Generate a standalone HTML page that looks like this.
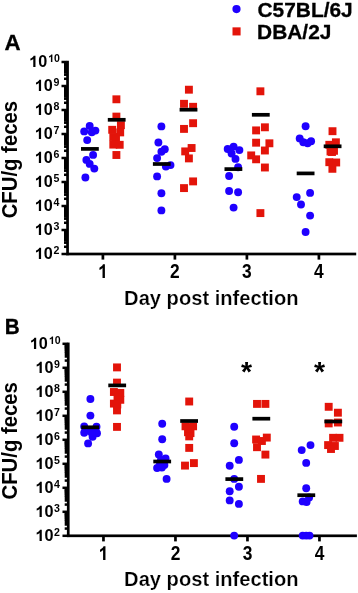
<!DOCTYPE html>
<html><head><meta charset="utf-8"><title>CFU/g feces</title>
<style>
html,body{margin:0;padding:0;background:#fff;}
body{width:358px;height:593px;overflow:hidden;}
svg{display:block;font-family:"Liberation Sans",sans-serif;will-change:transform;}
.yt{font-weight:bold;font-size:15.6px;}
.sup{font-weight:bold;font-size:10.6px;}
.xt{font-weight:bold;font-size:19.3px;}
.ttl{font-weight:bold;font-size:19.6px;stroke:#fff;stroke-width:0.2px;}
.ytl{font-weight:bold;font-size:21.5px;}
.pl{font-weight:bold;font-size:22.3px;stroke:#000;stroke-width:0.3px;}
.lg{font-weight:bold;font-size:20.9px;stroke:#000;stroke-width:0.3px;}
.st{font-weight:bold;font-size:28.4px;}
</style></head><body>
<svg width="358" height="593" viewBox="0 0 358 593" fill="#000">
<rect x="0" y="0" width="358" height="593" fill="#fff"/>
<rect x="66.20" y="60.75" width="2.7" height="194.50"/>
<rect x="66.20" y="252.65" width="290.00" height="2.7"/>
<rect x="61.50" y="252.75" width="5" height="2.5"/>
<rect x="64.00" y="245.53" width="3" height="2.5"/>
<rect x="64.00" y="241.15" width="3" height="2.8"/>
<rect x="64.00" y="237.90" width="3" height="3.3"/>
<rect x="64.00" y="235.57" width="3" height="3.3"/>
<rect x="64.00" y="233.67" width="3" height="3.3"/>
<rect x="64.00" y="232.07" width="3" height="3.3"/>
<rect x="64.00" y="230.68" width="3" height="3.3"/>
<rect x="64.00" y="229.45" width="3" height="3.3"/>
<rect x="61.50" y="228.75" width="5" height="2.5"/>
<rect x="64.00" y="221.53" width="3" height="2.5"/>
<rect x="64.00" y="217.15" width="3" height="2.8"/>
<rect x="64.00" y="213.90" width="3" height="3.3"/>
<rect x="64.00" y="211.57" width="3" height="3.3"/>
<rect x="64.00" y="209.67" width="3" height="3.3"/>
<rect x="64.00" y="208.07" width="3" height="3.3"/>
<rect x="64.00" y="206.68" width="3" height="3.3"/>
<rect x="64.00" y="205.45" width="3" height="3.3"/>
<rect x="61.50" y="204.75" width="5" height="2.5"/>
<rect x="64.00" y="197.53" width="3" height="2.5"/>
<rect x="64.00" y="193.15" width="3" height="2.8"/>
<rect x="64.00" y="189.90" width="3" height="3.3"/>
<rect x="64.00" y="187.57" width="3" height="3.3"/>
<rect x="64.00" y="185.67" width="3" height="3.3"/>
<rect x="64.00" y="184.07" width="3" height="3.3"/>
<rect x="64.00" y="182.68" width="3" height="3.3"/>
<rect x="64.00" y="181.45" width="3" height="3.3"/>
<rect x="61.50" y="180.75" width="5" height="2.5"/>
<rect x="64.00" y="173.53" width="3" height="2.5"/>
<rect x="64.00" y="169.15" width="3" height="2.8"/>
<rect x="64.00" y="165.90" width="3" height="3.3"/>
<rect x="64.00" y="163.57" width="3" height="3.3"/>
<rect x="64.00" y="161.67" width="3" height="3.3"/>
<rect x="64.00" y="160.07" width="3" height="3.3"/>
<rect x="64.00" y="158.68" width="3" height="3.3"/>
<rect x="64.00" y="157.45" width="3" height="3.3"/>
<rect x="61.50" y="156.75" width="5" height="2.5"/>
<rect x="64.00" y="149.53" width="3" height="2.5"/>
<rect x="64.00" y="145.15" width="3" height="2.8"/>
<rect x="64.00" y="141.90" width="3" height="3.3"/>
<rect x="64.00" y="139.57" width="3" height="3.3"/>
<rect x="64.00" y="137.67" width="3" height="3.3"/>
<rect x="64.00" y="136.07" width="3" height="3.3"/>
<rect x="64.00" y="134.68" width="3" height="3.3"/>
<rect x="64.00" y="133.45" width="3" height="3.3"/>
<rect x="61.50" y="132.75" width="5" height="2.5"/>
<rect x="64.00" y="125.53" width="3" height="2.5"/>
<rect x="64.00" y="121.15" width="3" height="2.8"/>
<rect x="64.00" y="117.90" width="3" height="3.3"/>
<rect x="64.00" y="115.57" width="3" height="3.3"/>
<rect x="64.00" y="113.67" width="3" height="3.3"/>
<rect x="64.00" y="112.07" width="3" height="3.3"/>
<rect x="64.00" y="110.68" width="3" height="3.3"/>
<rect x="64.00" y="109.45" width="3" height="3.3"/>
<rect x="61.50" y="108.75" width="5" height="2.5"/>
<rect x="64.00" y="101.53" width="3" height="2.5"/>
<rect x="64.00" y="97.15" width="3" height="2.8"/>
<rect x="64.00" y="93.90" width="3" height="3.3"/>
<rect x="64.00" y="91.57" width="3" height="3.3"/>
<rect x="64.00" y="89.67" width="3" height="3.3"/>
<rect x="64.00" y="88.07" width="3" height="3.3"/>
<rect x="64.00" y="86.68" width="3" height="3.3"/>
<rect x="64.00" y="85.45" width="3" height="3.3"/>
<rect x="61.50" y="84.75" width="5" height="2.5"/>
<rect x="64.00" y="77.53" width="3" height="2.5"/>
<rect x="64.00" y="73.15" width="3" height="2.8"/>
<rect x="64.00" y="69.90" width="3" height="3.3"/>
<rect x="64.00" y="67.57" width="3" height="3.3"/>
<rect x="64.00" y="65.67" width="3" height="3.3"/>
<rect x="64.00" y="64.07" width="3" height="3.3"/>
<rect x="64.00" y="62.68" width="3" height="3.3"/>
<rect x="64.00" y="61.45" width="3" height="3.3"/>
<rect x="61.50" y="60.75" width="5" height="2.5"/>
<rect x="101.55" y="254.00" width="2.7" height="5.6"/>
<path transform="translate(98.07,278.00) scale(0.00848,-0.00942)" d="M806 0H525V1059Q371 915 162 846V1101Q272 1137 401 1237.5Q530 1338 578 1472H806Z"/>
<text class="xt" transform="translate(102.9,278) scale(0.9,1)" text-anchor="middle" style="fill:none;stroke:none">1</text>
<rect x="173.55" y="254.00" width="2.7" height="5.6"/>
<text class="xt" transform="translate(174.9,278) scale(0.9,1)" text-anchor="middle">2</text>
<rect x="245.55" y="254.00" width="2.7" height="5.6"/>
<text class="xt" transform="translate(246.9,278) scale(0.9,1)" text-anchor="middle">3</text>
<rect x="317.55" y="254.00" width="2.7" height="5.6"/>
<text class="xt" transform="translate(318.9,278) scale(0.9,1)" text-anchor="middle">4</text>
<path transform="translate(34.70,259.00) scale(0.00792,-0.00762)" d="M806 0H525V1059Q371 915 162 846V1101Q272 1137 401 1237.5Q530 1338 578 1472H806Z"/><text class="yt" transform="translate(34.70,259) scale(1.04,1)"><tspan style="fill:none">1</tspan>0</text><text class="sup" x="53.40" y="254">2</text>
<path transform="translate(34.70,235.00) scale(0.00792,-0.00762)" d="M806 0H525V1059Q371 915 162 846V1101Q272 1137 401 1237.5Q530 1338 578 1472H806Z"/><text class="yt" transform="translate(34.70,235) scale(1.04,1)"><tspan style="fill:none">1</tspan>0</text><text class="sup" x="53.40" y="230">3</text>
<path transform="translate(34.70,211.00) scale(0.00792,-0.00762)" d="M806 0H525V1059Q371 915 162 846V1101Q272 1137 401 1237.5Q530 1338 578 1472H806Z"/><text class="yt" transform="translate(34.70,211) scale(1.04,1)"><tspan style="fill:none">1</tspan>0</text><text class="sup" x="53.40" y="206">4</text>
<path transform="translate(34.70,187.00) scale(0.00792,-0.00762)" d="M806 0H525V1059Q371 915 162 846V1101Q272 1137 401 1237.5Q530 1338 578 1472H806Z"/><text class="yt" transform="translate(34.70,187) scale(1.04,1)"><tspan style="fill:none">1</tspan>0</text><text class="sup" x="53.40" y="182">5</text>
<path transform="translate(34.70,163.00) scale(0.00792,-0.00762)" d="M806 0H525V1059Q371 915 162 846V1101Q272 1137 401 1237.5Q530 1338 578 1472H806Z"/><text class="yt" transform="translate(34.70,163) scale(1.04,1)"><tspan style="fill:none">1</tspan>0</text><text class="sup" x="53.40" y="158">6</text>
<path transform="translate(34.70,139.00) scale(0.00792,-0.00762)" d="M806 0H525V1059Q371 915 162 846V1101Q272 1137 401 1237.5Q530 1338 578 1472H806Z"/><text class="yt" transform="translate(34.70,139) scale(1.04,1)"><tspan style="fill:none">1</tspan>0</text><text class="sup" x="53.40" y="134">7</text>
<path transform="translate(34.70,115.00) scale(0.00792,-0.00762)" d="M806 0H525V1059Q371 915 162 846V1101Q272 1137 401 1237.5Q530 1338 578 1472H806Z"/><text class="yt" transform="translate(34.70,115) scale(1.04,1)"><tspan style="fill:none">1</tspan>0</text><text class="sup" x="53.40" y="110">8</text>
<path transform="translate(34.70,91.00) scale(0.00792,-0.00762)" d="M806 0H525V1059Q371 915 162 846V1101Q272 1137 401 1237.5Q530 1338 578 1472H806Z"/><text class="yt" transform="translate(34.70,91) scale(1.04,1)"><tspan style="fill:none">1</tspan>0</text><text class="sup" x="53.40" y="86">9</text>
<path transform="translate(29.10,67.00) scale(0.00792,-0.00762)" d="M806 0H525V1059Q371 915 162 846V1101Q272 1137 401 1237.5Q530 1338 578 1472H806Z"/><text class="yt" transform="translate(29.10,67) scale(1.04,1)"><tspan style="fill:none">1</tspan>0</text><path transform="translate(48.20,62.00) scale(0.00518,-0.00518)" d="M806 0H525V1059Q371 915 162 846V1101Q272 1137 401 1237.5Q530 1338 578 1472H806Z"/><text class="sup" x="48.20" y="62"><tspan style="fill:none">1</tspan>0</text>
<circle cx="89.7" cy="125.9" r="3.95" fill="#1f00ff"/>
<circle cx="84.2" cy="131.4" r="3.95" fill="#1f00ff"/>
<circle cx="95.4" cy="130.6" r="3.95" fill="#1f00ff"/>
<circle cx="91.8" cy="132.3" r="3.95" fill="#1f00ff"/>
<circle cx="87.2" cy="140.1" r="3.95" fill="#1f00ff"/>
<circle cx="93.1" cy="154.9" r="3.95" fill="#1f00ff"/>
<circle cx="86.4" cy="159.9" r="3.95" fill="#1f00ff"/>
<circle cx="89.7" cy="163.9" r="3.95" fill="#1f00ff"/>
<circle cx="94.3" cy="168.6" r="3.95" fill="#1f00ff"/>
<circle cx="85.4" cy="177.5" r="3.95" fill="#1f00ff"/>
<rect x="112.45" y="95.35" width="7.9" height="7.9" fill="#e3140a"/>
<rect x="112.45" y="112.65" width="7.9" height="7.9" fill="#e3140a"/>
<rect x="116.95" y="121.25" width="7.9" height="7.9" fill="#e3140a"/>
<rect x="108.25" y="125.85" width="7.9" height="7.9" fill="#e3140a"/>
<rect x="116.25" y="128.45" width="7.9" height="7.9" fill="#e3140a"/>
<rect x="109.35" y="133.05" width="7.9" height="7.9" fill="#e3140a"/>
<rect x="112.05" y="135.55" width="7.9" height="7.9" fill="#e3140a"/>
<rect x="109.35" y="140.65" width="7.9" height="7.9" fill="#e3140a"/>
<rect x="115.75" y="140.85" width="7.9" height="7.9" fill="#e3140a"/>
<rect x="112.45" y="151.05" width="7.9" height="7.9" fill="#e3140a"/>
<circle cx="161.4" cy="126.4" r="3.95" fill="#1f00ff"/>
<circle cx="158.4" cy="142.5" r="3.95" fill="#1f00ff"/>
<circle cx="164.8" cy="149.2" r="3.95" fill="#1f00ff"/>
<circle cx="161.4" cy="151.7" r="3.95" fill="#1f00ff"/>
<circle cx="157.1" cy="158.1" r="3.95" fill="#1f00ff"/>
<circle cx="170.5" cy="165.1" r="3.95" fill="#1f00ff"/>
<circle cx="165.9" cy="166.5" r="3.95" fill="#1f00ff"/>
<circle cx="157.1" cy="176.4" r="3.95" fill="#1f00ff"/>
<circle cx="161.4" cy="193.3" r="3.95" fill="#1f00ff"/>
<circle cx="161.4" cy="210.4" r="3.95" fill="#1f00ff"/>
<rect x="184.95" y="85.75" width="7.9" height="7.9" fill="#e3140a"/>
<rect x="180.05" y="99.85" width="7.9" height="7.9" fill="#e3140a"/>
<rect x="189.15" y="102.85" width="7.9" height="7.9" fill="#e3140a"/>
<rect x="189.15" y="119.25" width="7.9" height="7.9" fill="#e3140a"/>
<rect x="180.05" y="124.95" width="7.9" height="7.9" fill="#e3140a"/>
<rect x="187.65" y="144.05" width="7.9" height="7.9" fill="#e3140a"/>
<rect x="181.25" y="147.45" width="7.9" height="7.9" fill="#e3140a"/>
<rect x="184.95" y="154.45" width="7.9" height="7.9" fill="#e3140a"/>
<rect x="189.15" y="177.45" width="7.9" height="7.9" fill="#e3140a"/>
<rect x="180.05" y="184.15" width="7.9" height="7.9" fill="#e3140a"/>
<circle cx="233.6" cy="146.6" r="3.95" fill="#1f00ff"/>
<circle cx="227.7" cy="149.0" r="3.95" fill="#1f00ff"/>
<circle cx="239.4" cy="150.1" r="3.95" fill="#1f00ff"/>
<circle cx="231.6" cy="153.5" r="3.95" fill="#1f00ff"/>
<circle cx="235.5" cy="158.9" r="3.95" fill="#1f00ff"/>
<circle cx="238.1" cy="167.2" r="3.95" fill="#1f00ff"/>
<circle cx="229.1" cy="176.0" r="3.95" fill="#1f00ff"/>
<circle cx="229.1" cy="191.0" r="3.95" fill="#1f00ff"/>
<circle cx="238.1" cy="192.2" r="3.95" fill="#1f00ff"/>
<circle cx="233.6" cy="207.6" r="3.95" fill="#1f00ff"/>
<rect x="256.45" y="87.35" width="7.9" height="7.9" fill="#e3140a"/>
<rect x="260.95" y="123.35" width="7.9" height="7.9" fill="#e3140a"/>
<rect x="252.15" y="126.45" width="7.9" height="7.9" fill="#e3140a"/>
<rect x="252.15" y="138.75" width="7.9" height="7.9" fill="#e3140a"/>
<rect x="265.45" y="139.35" width="7.9" height="7.9" fill="#e3140a"/>
<rect x="260.95" y="146.55" width="7.9" height="7.9" fill="#e3140a"/>
<rect x="247.25" y="151.45" width="7.9" height="7.9" fill="#e3140a"/>
<rect x="252.15" y="155.35" width="7.9" height="7.9" fill="#e3140a"/>
<rect x="260.95" y="163.55" width="7.9" height="7.9" fill="#e3140a"/>
<rect x="256.45" y="209.15" width="7.9" height="7.9" fill="#e3140a"/>
<circle cx="305.6" cy="126.2" r="3.95" fill="#1f00ff"/>
<circle cx="299.7" cy="138.4" r="3.95" fill="#1f00ff"/>
<circle cx="311.1" cy="141.3" r="3.95" fill="#1f00ff"/>
<circle cx="303.3" cy="142.3" r="3.95" fill="#1f00ff"/>
<circle cx="307.6" cy="143.2" r="3.95" fill="#1f00ff"/>
<circle cx="310.1" cy="192.9" r="3.95" fill="#1f00ff"/>
<circle cx="296.7" cy="197.1" r="3.95" fill="#1f00ff"/>
<circle cx="301.0" cy="204.5" r="3.95" fill="#1f00ff"/>
<circle cx="310.1" cy="215.6" r="3.95" fill="#1f00ff"/>
<circle cx="305.6" cy="232.0" r="3.95" fill="#1f00ff"/>
<rect x="328.55" y="127.25" width="7.9" height="7.9" fill="#e3140a"/>
<rect x="331.95" y="138.35" width="7.9" height="7.9" fill="#e3140a"/>
<rect x="325.35" y="140.85" width="7.9" height="7.9" fill="#e3140a"/>
<rect x="328.55" y="144.05" width="7.9" height="7.9" fill="#e3140a"/>
<rect x="326.55" y="147.55" width="7.9" height="7.9" fill="#e3140a"/>
<rect x="330.05" y="146.85" width="7.9" height="7.9" fill="#e3140a"/>
<rect x="328.05" y="148.05" width="7.9" height="7.9" fill="#e3140a"/>
<rect x="325.35" y="158.25" width="7.9" height="7.9" fill="#e3140a"/>
<rect x="332.25" y="158.55" width="7.9" height="7.9" fill="#e3140a"/>
<rect x="328.45" y="164.85" width="7.9" height="7.9" fill="#e3140a"/>
<rect x="81.00" y="147.05" width="17.8" height="3.7"/>
<rect x="152.90" y="162.15" width="17.8" height="3.7"/>
<rect x="224.50" y="167.25" width="17.8" height="3.7"/>
<rect x="296.70" y="171.55" width="17.8" height="3.7"/>
<rect x="107.80" y="117.95" width="17.8" height="3.7"/>
<rect x="179.60" y="107.85" width="17.8" height="3.7"/>
<rect x="251.90" y="112.95" width="17.8" height="3.7"/>
<rect x="323.70" y="144.45" width="17.8" height="3.7"/>
<rect x="66.90" y="342.55" width="2.7" height="194.50"/>
<rect x="66.90" y="534.45" width="290.00" height="2.7"/>
<rect x="62.48" y="534.55" width="5" height="2.5"/>
<rect x="64.70" y="527.33" width="3" height="2.5"/>
<rect x="64.70" y="522.95" width="3" height="2.8"/>
<rect x="64.70" y="519.70" width="3" height="3.3"/>
<rect x="64.70" y="517.37" width="3" height="3.3"/>
<rect x="64.70" y="515.47" width="3" height="3.3"/>
<rect x="64.70" y="513.87" width="3" height="3.3"/>
<rect x="64.70" y="512.48" width="3" height="3.3"/>
<rect x="64.70" y="511.25" width="3" height="3.3"/>
<rect x="62.48" y="510.55" width="5" height="2.5"/>
<rect x="64.70" y="503.33" width="3" height="2.5"/>
<rect x="64.70" y="498.95" width="3" height="2.8"/>
<rect x="64.70" y="495.70" width="3" height="3.3"/>
<rect x="64.70" y="493.37" width="3" height="3.3"/>
<rect x="64.70" y="491.47" width="3" height="3.3"/>
<rect x="64.70" y="489.87" width="3" height="3.3"/>
<rect x="64.70" y="488.48" width="3" height="3.3"/>
<rect x="64.70" y="487.25" width="3" height="3.3"/>
<rect x="62.48" y="486.55" width="5" height="2.5"/>
<rect x="64.70" y="479.33" width="3" height="2.5"/>
<rect x="64.70" y="474.95" width="3" height="2.8"/>
<rect x="64.70" y="471.70" width="3" height="3.3"/>
<rect x="64.70" y="469.37" width="3" height="3.3"/>
<rect x="64.70" y="467.47" width="3" height="3.3"/>
<rect x="64.70" y="465.87" width="3" height="3.3"/>
<rect x="64.70" y="464.48" width="3" height="3.3"/>
<rect x="64.70" y="463.25" width="3" height="3.3"/>
<rect x="62.48" y="462.55" width="5" height="2.5"/>
<rect x="64.70" y="455.33" width="3" height="2.5"/>
<rect x="64.70" y="450.95" width="3" height="2.8"/>
<rect x="64.70" y="447.70" width="3" height="3.3"/>
<rect x="64.70" y="445.37" width="3" height="3.3"/>
<rect x="64.70" y="443.47" width="3" height="3.3"/>
<rect x="64.70" y="441.87" width="3" height="3.3"/>
<rect x="64.70" y="440.48" width="3" height="3.3"/>
<rect x="64.70" y="439.25" width="3" height="3.3"/>
<rect x="62.48" y="438.55" width="5" height="2.5"/>
<rect x="64.70" y="431.33" width="3" height="2.5"/>
<rect x="64.70" y="426.95" width="3" height="2.8"/>
<rect x="64.70" y="423.70" width="3" height="3.3"/>
<rect x="64.70" y="421.37" width="3" height="3.3"/>
<rect x="64.70" y="419.47" width="3" height="3.3"/>
<rect x="64.70" y="417.87" width="3" height="3.3"/>
<rect x="64.70" y="416.48" width="3" height="3.3"/>
<rect x="64.70" y="415.25" width="3" height="3.3"/>
<rect x="62.48" y="414.55" width="5" height="2.5"/>
<rect x="64.70" y="407.33" width="3" height="2.5"/>
<rect x="64.70" y="402.95" width="3" height="2.8"/>
<rect x="64.70" y="399.70" width="3" height="3.3"/>
<rect x="64.70" y="397.37" width="3" height="3.3"/>
<rect x="64.70" y="395.47" width="3" height="3.3"/>
<rect x="64.70" y="393.87" width="3" height="3.3"/>
<rect x="64.70" y="392.48" width="3" height="3.3"/>
<rect x="64.70" y="391.25" width="3" height="3.3"/>
<rect x="62.48" y="390.55" width="5" height="2.5"/>
<rect x="64.70" y="383.33" width="3" height="2.5"/>
<rect x="64.70" y="378.95" width="3" height="2.8"/>
<rect x="64.70" y="375.70" width="3" height="3.3"/>
<rect x="64.70" y="373.37" width="3" height="3.3"/>
<rect x="64.70" y="371.47" width="3" height="3.3"/>
<rect x="64.70" y="369.87" width="3" height="3.3"/>
<rect x="64.70" y="368.48" width="3" height="3.3"/>
<rect x="64.70" y="367.25" width="3" height="3.3"/>
<rect x="62.48" y="366.55" width="5" height="2.5"/>
<rect x="64.70" y="359.33" width="3" height="2.5"/>
<rect x="64.70" y="354.95" width="3" height="2.8"/>
<rect x="64.70" y="351.70" width="3" height="3.3"/>
<rect x="64.70" y="349.37" width="3" height="3.3"/>
<rect x="64.70" y="347.47" width="3" height="3.3"/>
<rect x="64.70" y="345.87" width="3" height="3.3"/>
<rect x="64.70" y="344.48" width="3" height="3.3"/>
<rect x="64.70" y="343.25" width="3" height="3.3"/>
<rect x="62.48" y="342.55" width="5" height="2.5"/>
<rect x="102.11" y="535.80" width="2.7" height="5.6"/>
<path transform="translate(98.63,560.00) scale(0.00848,-0.00942)" d="M806 0H525V1059Q371 915 162 846V1101Q272 1137 401 1237.5Q530 1338 578 1472H806Z"/>
<text class="xt" transform="translate(103.46,560) scale(0.9,1)" text-anchor="middle" style="fill:none;stroke:none">1</text>
<rect x="174.11" y="535.80" width="2.7" height="5.6"/>
<text class="xt" transform="translate(175.46,560) scale(0.9,1)" text-anchor="middle">2</text>
<rect x="246.11" y="535.80" width="2.7" height="5.6"/>
<text class="xt" transform="translate(247.46,560) scale(0.9,1)" text-anchor="middle">3</text>
<rect x="318.11" y="535.80" width="2.7" height="5.6"/>
<text class="xt" transform="translate(319.46,560) scale(0.9,1)" text-anchor="middle">4</text>
<path transform="translate(35.40,541.00) scale(0.00792,-0.00762)" d="M806 0H525V1059Q371 915 162 846V1101Q272 1137 401 1237.5Q530 1338 578 1472H806Z"/><text class="yt" transform="translate(35.40,541) scale(1.04,1)"><tspan style="fill:none">1</tspan>0</text><text class="sup" x="54.10" y="536">2</text>
<path transform="translate(35.40,517.00) scale(0.00792,-0.00762)" d="M806 0H525V1059Q371 915 162 846V1101Q272 1137 401 1237.5Q530 1338 578 1472H806Z"/><text class="yt" transform="translate(35.40,517) scale(1.04,1)"><tspan style="fill:none">1</tspan>0</text><text class="sup" x="54.10" y="512">3</text>
<path transform="translate(35.40,493.00) scale(0.00792,-0.00762)" d="M806 0H525V1059Q371 915 162 846V1101Q272 1137 401 1237.5Q530 1338 578 1472H806Z"/><text class="yt" transform="translate(35.40,493) scale(1.04,1)"><tspan style="fill:none">1</tspan>0</text><text class="sup" x="54.10" y="488">4</text>
<path transform="translate(35.40,469.00) scale(0.00792,-0.00762)" d="M806 0H525V1059Q371 915 162 846V1101Q272 1137 401 1237.5Q530 1338 578 1472H806Z"/><text class="yt" transform="translate(35.40,469) scale(1.04,1)"><tspan style="fill:none">1</tspan>0</text><text class="sup" x="54.10" y="464">5</text>
<path transform="translate(35.40,445.00) scale(0.00792,-0.00762)" d="M806 0H525V1059Q371 915 162 846V1101Q272 1137 401 1237.5Q530 1338 578 1472H806Z"/><text class="yt" transform="translate(35.40,445) scale(1.04,1)"><tspan style="fill:none">1</tspan>0</text><text class="sup" x="54.10" y="440">6</text>
<path transform="translate(35.40,421.00) scale(0.00792,-0.00762)" d="M806 0H525V1059Q371 915 162 846V1101Q272 1137 401 1237.5Q530 1338 578 1472H806Z"/><text class="yt" transform="translate(35.40,421) scale(1.04,1)"><tspan style="fill:none">1</tspan>0</text><text class="sup" x="54.10" y="416">7</text>
<path transform="translate(35.40,397.00) scale(0.00792,-0.00762)" d="M806 0H525V1059Q371 915 162 846V1101Q272 1137 401 1237.5Q530 1338 578 1472H806Z"/><text class="yt" transform="translate(35.40,397) scale(1.04,1)"><tspan style="fill:none">1</tspan>0</text><text class="sup" x="54.10" y="392">8</text>
<path transform="translate(35.40,373.00) scale(0.00792,-0.00762)" d="M806 0H525V1059Q371 915 162 846V1101Q272 1137 401 1237.5Q530 1338 578 1472H806Z"/><text class="yt" transform="translate(35.40,373) scale(1.04,1)"><tspan style="fill:none">1</tspan>0</text><text class="sup" x="54.10" y="368">9</text>
<path transform="translate(29.80,349.00) scale(0.00792,-0.00762)" d="M806 0H525V1059Q371 915 162 846V1101Q272 1137 401 1237.5Q530 1338 578 1472H806Z"/><text class="yt" transform="translate(29.80,349) scale(1.04,1)"><tspan style="fill:none">1</tspan>0</text><path transform="translate(48.90,344.00) scale(0.00518,-0.00518)" d="M806 0H525V1059Q371 915 162 846V1101Q272 1137 401 1237.5Q530 1338 578 1472H806Z"/><text class="sup" x="48.90" y="344"><tspan style="fill:none">1</tspan>0</text>
<circle cx="90.4" cy="399.0" r="3.95" fill="#1f00ff"/>
<circle cx="90.4" cy="415.6" r="3.95" fill="#1f00ff"/>
<circle cx="84.2" cy="426.5" r="3.95" fill="#1f00ff"/>
<circle cx="96.5" cy="426.7" r="3.95" fill="#1f00ff"/>
<circle cx="84.2" cy="432.8" r="3.95" fill="#1f00ff"/>
<circle cx="97.0" cy="433.2" r="3.95" fill="#1f00ff"/>
<circle cx="92.6" cy="436.8" r="3.95" fill="#1f00ff"/>
<circle cx="88.1" cy="443.4" r="3.95" fill="#1f00ff"/>
<circle cx="90.4" cy="430.8" r="3.95" fill="#1f00ff"/>
<circle cx="91.5" cy="432.5" r="3.95" fill="#1f00ff"/>
<rect x="113.05" y="363.45" width="7.9" height="7.9" fill="#e3140a"/>
<rect x="113.05" y="378.65" width="7.9" height="7.9" fill="#e3140a"/>
<rect x="109.95" y="388.05" width="7.9" height="7.9" fill="#e3140a"/>
<rect x="116.35" y="388.95" width="7.9" height="7.9" fill="#e3140a"/>
<rect x="116.35" y="395.85" width="7.9" height="7.9" fill="#e3140a"/>
<rect x="113.55" y="393.55" width="7.9" height="7.9" fill="#e3140a"/>
<rect x="109.95" y="399.65" width="7.9" height="7.9" fill="#e3140a"/>
<rect x="113.05" y="406.45" width="7.9" height="7.9" fill="#e3140a"/>
<rect x="113.05" y="422.95" width="7.9" height="7.9" fill="#e3140a"/>
<rect x="113.35" y="400.55" width="7.9" height="7.9" fill="#e3140a"/>
<circle cx="162.2" cy="423.8" r="3.95" fill="#1f00ff"/>
<circle cx="162.2" cy="439.3" r="3.95" fill="#1f00ff"/>
<circle cx="158.8" cy="454.5" r="3.95" fill="#1f00ff"/>
<circle cx="165.6" cy="458.4" r="3.95" fill="#1f00ff"/>
<circle cx="164.4" cy="465.1" r="3.95" fill="#1f00ff"/>
<circle cx="157.1" cy="468.0" r="3.95" fill="#1f00ff"/>
<circle cx="161.9" cy="467.6" r="3.95" fill="#1f00ff"/>
<circle cx="166.6" cy="478.9" r="3.95" fill="#1f00ff"/>
<circle cx="161" cy="460" r="3.95" fill="#1f00ff"/>
<circle cx="160" cy="463" r="3.95" fill="#1f00ff"/>
<rect x="185.25" y="397.55" width="7.9" height="7.9" fill="#e3140a"/>
<rect x="181.55" y="422.35" width="7.9" height="7.9" fill="#e3140a"/>
<rect x="189.15" y="422.35" width="7.9" height="7.9" fill="#e3140a"/>
<rect x="185.25" y="423.65" width="7.9" height="7.9" fill="#e3140a"/>
<rect x="184.05" y="428.25" width="7.9" height="7.9" fill="#e3140a"/>
<rect x="186.55" y="429.15" width="7.9" height="7.9" fill="#e3140a"/>
<rect x="185.25" y="432.45" width="7.9" height="7.9" fill="#e3140a"/>
<rect x="185.25" y="443.95" width="7.9" height="7.9" fill="#e3140a"/>
<rect x="189.95" y="459.15" width="7.9" height="7.9" fill="#e3140a"/>
<rect x="181.05" y="461.65" width="7.9" height="7.9" fill="#e3140a"/>
<circle cx="234.2" cy="426.8" r="3.95" fill="#1f00ff"/>
<circle cx="234.2" cy="443.3" r="3.95" fill="#1f00ff"/>
<circle cx="238.9" cy="459.9" r="3.95" fill="#1f00ff"/>
<circle cx="229.7" cy="465.8" r="3.95" fill="#1f00ff"/>
<circle cx="234.2" cy="478.9" r="3.95" fill="#1f00ff"/>
<circle cx="238.9" cy="486.7" r="3.95" fill="#1f00ff"/>
<circle cx="229.7" cy="491.2" r="3.95" fill="#1f00ff"/>
<circle cx="229.7" cy="500.4" r="3.95" fill="#1f00ff"/>
<circle cx="238.9" cy="503.9" r="3.95" fill="#1f00ff"/>
<circle cx="234.2" cy="535.6" r="3.95" fill="#1f00ff"/>
<rect x="253.05" y="399.95" width="7.9" height="7.9" fill="#e3140a"/>
<rect x="261.45" y="399.95" width="7.9" height="7.9" fill="#e3140a"/>
<rect x="262.85" y="433.65" width="7.9" height="7.9" fill="#e3140a"/>
<rect x="252.15" y="435.55" width="7.9" height="7.9" fill="#e3140a"/>
<rect x="257.95" y="437.05" width="7.9" height="7.9" fill="#e3140a"/>
<rect x="253.05" y="443.25" width="7.9" height="7.9" fill="#e3140a"/>
<rect x="261.45" y="450.65" width="7.9" height="7.9" fill="#e3140a"/>
<rect x="257.05" y="474.95" width="7.9" height="7.9" fill="#e3140a"/>
<circle cx="310.5" cy="445.1" r="3.95" fill="#1f00ff"/>
<circle cx="301.7" cy="450.1" r="3.95" fill="#1f00ff"/>
<circle cx="306.2" cy="462.9" r="3.95" fill="#1f00ff"/>
<circle cx="306.2" cy="488.3" r="3.95" fill="#1f00ff"/>
<circle cx="309.1" cy="497.5" r="3.95" fill="#1f00ff"/>
<circle cx="302.7" cy="501.4" r="3.95" fill="#1f00ff"/>
<circle cx="306.6" cy="502" r="3.95" fill="#1f00ff"/>
<circle cx="302.7" cy="535.6" r="3.95" fill="#1f00ff"/>
<circle cx="306.2" cy="535.6" r="3.95" fill="#1f00ff"/>
<circle cx="309.5" cy="535.6" r="3.95" fill="#1f00ff"/>
<rect x="324.75" y="402.85" width="7.9" height="7.9" fill="#e3140a"/>
<rect x="333.95" y="408.75" width="7.9" height="7.9" fill="#e3140a"/>
<rect x="324.75" y="419.45" width="7.9" height="7.9" fill="#e3140a"/>
<rect x="333.95" y="418.55" width="7.9" height="7.9" fill="#e3140a"/>
<rect x="329.15" y="433.85" width="7.9" height="7.9" fill="#e3140a"/>
<rect x="335.55" y="433.85" width="7.9" height="7.9" fill="#e3140a"/>
<rect x="324.15" y="441.15" width="7.9" height="7.9" fill="#e3140a"/>
<rect x="330.95" y="442.05" width="7.9" height="7.9" fill="#e3140a"/>
<rect x="327.05" y="445.05" width="7.9" height="7.9" fill="#e3140a"/>
<rect x="81.30" y="425.45" width="17.8" height="3.7"/>
<rect x="153.30" y="459.65" width="17.8" height="3.7"/>
<rect x="225.40" y="477.25" width="17.8" height="3.7"/>
<rect x="297.40" y="493.35" width="17.8" height="3.7"/>
<rect x="108.30" y="383.55" width="17.8" height="3.7"/>
<rect x="180.20" y="419.15" width="17.8" height="3.7"/>
<rect x="252.40" y="416.85" width="17.8" height="3.7"/>
<rect x="324.40" y="419.65" width="17.8" height="3.7"/>
<text class="ttl" transform="translate(124.1,305) scale(1.027,1)">Day post infection</text>
<text class="ttl" transform="translate(124.1,586) scale(1.027,1)">Day post infection</text>
<text class="ytl" transform="translate(16.6,218.3) rotate(-90) scale(0.945,1)">CFU/g feces</text>
<text class="ytl" transform="translate(16.6,499.5) rotate(-90) scale(0.945,1)">CFU/g feces</text>
<text class="pl" x="4.5" y="50">A</text>
<text class="pl" transform="translate(4.8,334) scale(0.93,1)">B</text>
<circle cx="236.5" cy="9.1" r="4.1" fill="#1f00ff"/>
<rect x="232.5" y="27.35" width="8.1" height="8.1" fill="#e3140a"/>
<text class="lg" x="257.5" y="17">C57BL/6J</text>
<text class="lg" x="257.1" y="39">DBA/2J</text>
<text class="st" x="246.6" y="381" text-anchor="middle">*</text>
<text class="st" x="319.6" y="381" text-anchor="middle">*</text>
</svg>
</body></html>
